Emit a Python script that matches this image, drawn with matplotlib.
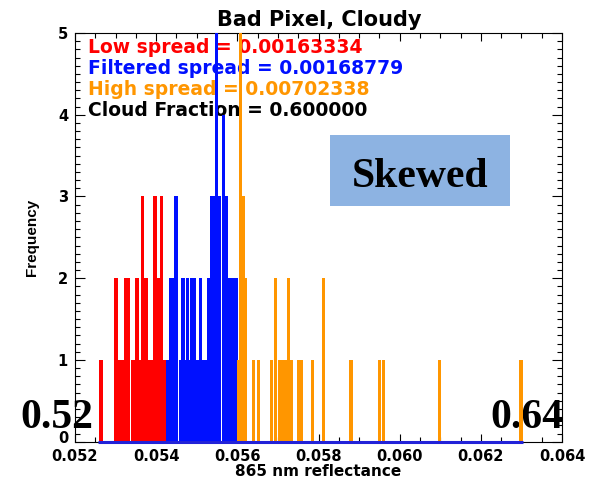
import numpy as np
import matplotlib.pyplot as plt
import matplotlib.transforms as mtransforms
from matplotlib.ticker import MultipleLocator

# гистограмма: положения столбиков и частоты
low_x = [0.05264, 0.05301, 0.05311, 0.05317, 0.05324, 0.05331, 0.05343, 0.05353,
         0.05360, 0.05366, 0.05375, 0.05382, 0.05390, 0.05397, 0.05405, 0.05413,
         0.05421]
low_n = [1, 2, 1, 1, 2, 2, 1, 2, 1, 3, 2, 1, 1, 3, 2, 3, 1]

filt_x = [0.05428, 0.05435, 0.05442, 0.05449, 0.05460, 0.05466, 0.05471, 0.05477,
          0.05482, 0.05487, 0.05494, 0.05501, 0.05509, 0.05515, 0.05522, 0.05529,
          0.05536, 0.05542, 0.05549, 0.05555, 0.05565, 0.05573, 0.05580, 0.05587,
          0.05593, 0.05598]
filt_n = [1, 2, 2, 3, 1, 2, 1, 2, 1, 2, 2, 1, 2, 1, 1, 2, 3, 3, 5, 3, 4, 3, 2, 2, 2, 2]

high_x = [0.05602, 0.05608, 0.05615, 0.05620, 0.05640, 0.05652, 0.05684, 0.05694,
          0.05705, 0.05711, 0.05718, 0.05726, 0.05734, 0.05750, 0.05757, 0.05786,
          0.05813, 0.05880, 0.05950, 0.05960, 0.06098, 0.06299]
high_n = [1, 5, 3, 2, 1, 1, 1, 2, 1, 1, 1, 2, 1, 1, 1, 1, 2, 1, 1, 1, 1, 1]

x_ticks = [0.052, 0.054, 0.056, 0.058, 0.060, 0.062, 0.064]
y_ticks = [0, 1, 2, 3, 4, 5]

low_spread = 0.00163334
filt_spread = 0.00168779
high_spread = 0.00702338
cloud_frac = 0.600000

RED = '#ff0000'
BLUE = '#0010ff'
ORANGE = '#ff9600'
bin_w = 0.00008

W, H = 591, 478
fig = plt.figure(figsize=(W / 100, H / 100), dpi=100)
ax = fig.add_axes([75 / W, 1 - 441.7 / H, 487 / W, 408.7 / H])

for xs, ns, c in [(low_x, low_n, RED), (filt_x, filt_n, BLUE), (high_x, high_n, ORANGE)]:
    ax.bar(xs, ns, width=bin_w, color=c, linewidth=0, zorder=3)

allx = low_x + filt_x + high_x
ax.hlines(0, min(allx) - bin_w, max(allx) + bin_w / 2, color='#2222d8', lw=2.2, zorder=4, clip_on=False)

ax.set_xlim(0.052, 0.064)
ax.set_ylim(0, 5)
ax.set_xticks(x_ticks)
ax.set_xticklabels([f'{v:.3f}' for v in x_ticks])
ax.set_yticks(y_ticks)
ax.xaxis.set_minor_locator(MultipleLocator(0.0005))
ax.yaxis.set_minor_locator(MultipleLocator(0.1))
ax.tick_params(axis='both', which='both', direction='in', top=True, right=True, width=0.8)
ax.tick_params(axis='x', which='major', length=6, pad=5)
ax.tick_params(axis='x', which='minor', length=3.5)
ax.tick_params(axis='y', which='major', length=7.5, pad=5)
ax.tick_params(axis='y', which='minor', length=3.5)
for lab in ax.get_xticklabels() + ax.get_yticklabels():
    lab.set_fontweight('bold')
    lab.set_fontsize(10.5)
for s in ax.spines.values():
    s.set_linewidth(0.8)

# подпись "0" по оси Y чуть выше, как в оригинале
lab0 = ax.get_yticklabels()[0]
lab0.set_transform(lab0.get_transform() +
                   mtransforms.ScaledTranslation(0, 5 / 100, fig.dpi_scale_trans))

def fx(px):
    return px / W

def fy(py):
    return 1 - py / H

fig.text(fx(319), fy(26), 'Bad Pixel, Cloudy', ha='center', va='baseline',
         fontsize=15, fontweight='bold')
fig.text(fx(318), fy(476), '865 nm reflectance', ha='center', va='baseline',
         fontsize=11, fontweight='bold')
fig.text(fx(32), fy(237), 'Frequency', rotation=90, ha='center', va='center',
         fontsize=11, fontweight='bold', family='Liberation Sans')

# подписи рисуются под столбиками
lines = [(f'Low spread = {low_spread:.8f}', RED),
         (f'Filtered spread = {filt_spread:.8f}', BLUE),
         (f'High spread = {high_spread:.8f}', ORANGE),
         (f'Cloud Fraction = {cloud_frac:.6f}', 'black')]
for i, (t, c) in enumerate(lines):
    ax.text(fx(88), fy(53 + 21 * i), t, color=c, ha='left', va='baseline',
            fontsize=13.5, fontweight='bold', zorder=1, transform=fig.transFigure)

# плашка "Skewed"
box = plt.Rectangle((fx(330), fy(206)), fx(180), 71 / H, transform=fig.transFigure,
                    facecolor='#8db3e2', edgecolor='none', zorder=5)
fig.add_artist(box)
fig.text(fx(420), fy(187), 'Skewed', ha='center', va='baseline', fontsize=30,
         fontweight='bold', family='Liberation Serif', zorder=6)

fig.text(fx(20), fy(428), '0.52', ha='left', va='baseline', fontsize=30,
         fontweight='bold', family='Liberation Serif', zorder=6)
ax.text(fx(563), fy(428), '0.64', ha='right', va='baseline', fontsize=30,
        fontweight='bold', family='Liberation Serif', zorder=2,
        transform=fig.transFigure, clip_on=False)

fig.savefig('out.png', dpi=100)
